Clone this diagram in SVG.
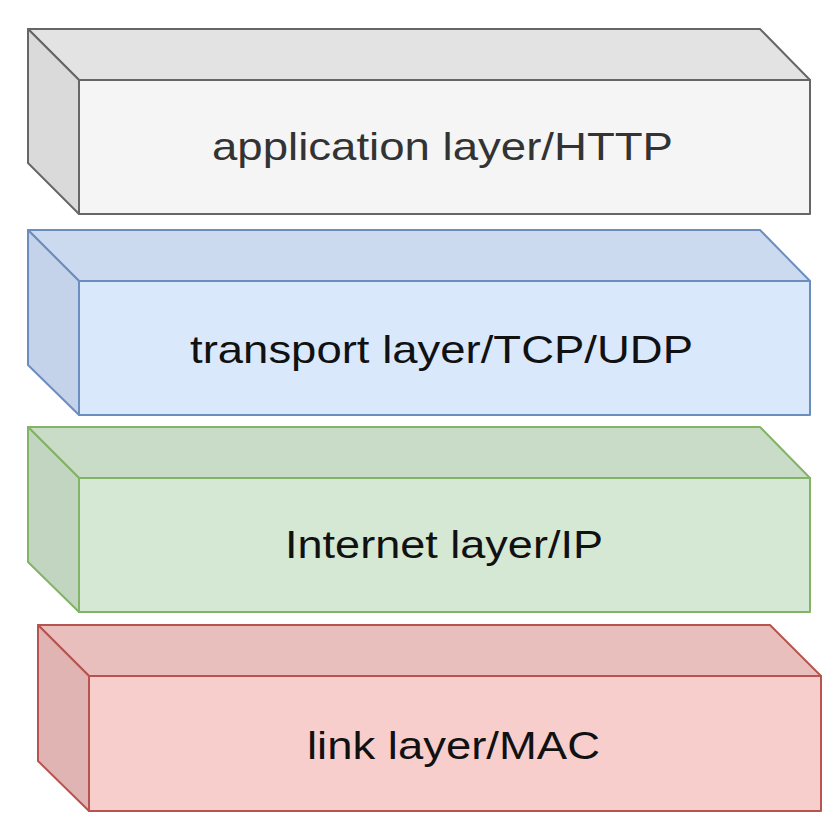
<svg xmlns="http://www.w3.org/2000/svg" width="835" height="830" viewBox="0 0 835 830">
<style>
.lbl{font-family:"Liberation Sans",Arial,Helvetica,sans-serif;font-size:39px;text-anchor:middle}
.f{stroke-width:2;stroke-linejoin:round}
.gray{stroke:#666666}
.blue{stroke:#6c8ebf}
.green{stroke:#82b366}
.red{stroke:#b85450}
</style>
<rect width="835" height="830" fill="#ffffff"/>
<g id="application">
<polygon class="f gray" points="28,29 760,29 810,80 79,80" fill="#e3e3e3"/>
<polygon class="f gray" points="28,29 79,80 79,214 28,163" fill="#dadada"/>
<rect class="f gray" x="79" y="80" width="731" height="134" fill="#f5f5f5"/>
<text class="lbl" x="442.5" y="160" fill="#333333" textLength="461" lengthAdjust="spacingAndGlyphs">application layer/HTTP</text>
</g>
<g id="transport">
<polygon class="f blue" points="28,230 760,230 810,281 79,281" fill="#cbdaef"/>
<polygon class="f blue" points="28,230 79,281 79,415 28,365" fill="#c4d3e9"/>
<rect class="f blue" x="79" y="281" width="731" height="134" fill="#dae8fc"/>
<text class="lbl" x="441.5" y="363" fill="#111111" textLength="503" lengthAdjust="spacingAndGlyphs">transport layer/TCP/UDP</text>
</g>
<g id="internet">
<polygon class="f green" points="28,427 760,427 810,478 79,478" fill="#c9dcc7"/>
<polygon class="f green" points="28,427 79,478 79,612 28,562" fill="#c2d5c0"/>
<rect class="f green" x="79" y="478" width="731" height="134" fill="#d5e8d4"/>
<text class="lbl" x="444" y="558" fill="#111111" textLength="318" lengthAdjust="spacingAndGlyphs">Internet layer/IP</text>
</g>
<g id="link">
<polygon class="f red" points="38,625 770,625 821,676 89,676" fill="#e9bfbe"/>
<polygon class="f red" points="38,625 89,676 89,811 38,761" fill="#e0b4b3"/>
<rect class="f red" x="89" y="676" width="732" height="135" fill="#f8cecc"/>
<text class="lbl" x="453.5" y="759" fill="#111111" textLength="293" lengthAdjust="spacingAndGlyphs">link layer/MAC</text>
</g>
<g id="connectors"></g>
</svg>
